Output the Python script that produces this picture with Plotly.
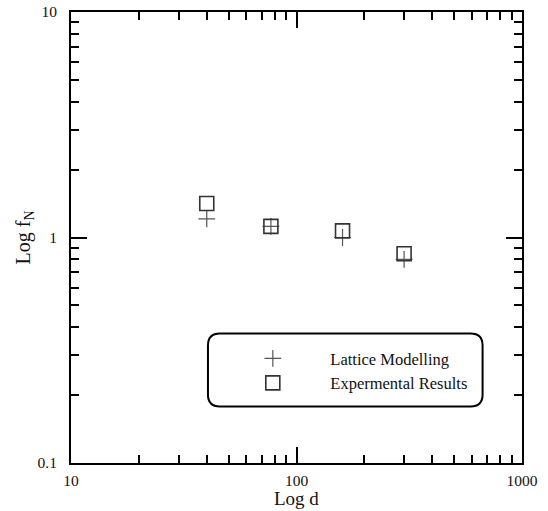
import plotly.graph_objects as go

d_values = [40, 77, 160, 300]
lattice_fN = [1.21, 1.12, 1.00, 0.80]
experimental_fN = [1.415, 1.12, 1.07, 0.847]

x_tickvals = [10, 100, 1000]
x_ticktext = ["10", "100", "1000"]
y_tickvals = [0.1, 1, 10]
y_ticktext = ["0.1", "1", "10"]
x_minor = [20, 30, 40, 50, 60, 70, 80, 90, 200, 300, 400, 500, 600, 700, 800, 900]
y_minor = [0.2, 0.3, 0.4, 0.5, 0.6, 0.7, 0.8, 0.9, 2, 3, 4, 5, 6, 7, 8, 9]

FONT = "Liberation Serif, Times New Roman, serif"

fig = go.Figure()
fig.add_trace(go.Scatter(
    x=d_values, y=lattice_fN, mode="markers", name="Lattice Modelling",
    marker=dict(symbol="cross-thin", size=12, line=dict(color="#555555", width=1.2)),
))
fig.add_trace(go.Scatter(
    x=d_values, y=experimental_fN, mode="markers", name="Expermental Results",
    marker=dict(symbol="square-open", size=14, color="#333333", line=dict(color="#333333", width=1.6)),
))

axis_common = dict(
    showline=True, linecolor="black", linewidth=2, mirror="allticks",
    ticks="inside", ticklen=16, tickwidth=2, tickcolor="black",
    showgrid=False, zeroline=False, automargin=False,
    tickfont=dict(family=FONT, size=15.5, color="#111111"),
)

fig.update_xaxes(
    type="log", range=[1, 3], tickvals=x_tickvals, ticktext=x_ticktext,
    minor=dict(ticks="inside", ticklen=8, tickwidth=2, tickcolor="black", tickvals=x_minor, showgrid=False),
    ticklabelstandoff=2,
    **axis_common,
)
fig.update_yaxes(
    type="log", range=[-1, 1], tickvals=y_tickvals, ticktext=y_ticktext,
    minor=dict(ticks="inside", ticklen=8, tickwidth=2, tickcolor="black", tickvals=y_minor, showgrid=False),
    title=dict(text="Log f<sub>N</sub>", font=dict(family=FONT, size=20, color="#111111"), standoff=2),
    ticklabelstandoff=9,
    **axis_common,
)

# x-axis title as annotation (below tick labels)
fig.add_annotation(text="Log d", xref="paper", yref="paper", x=0.5, y=-0.1053,
                   xanchor="center", yanchor="bottom", showarrow=False, borderpad=0,
                   font=dict(family=FONT, size=19, color="#111111"))

# rounded legend frame (paper coords)
x0, x1, y0, y1 = 0.3037, 0.9126, 0.1253, 0.2871
rx, ry = 12 / 451.7, 12 / 451.0
path = (f"M {x0+rx},{y0} L {x1-rx},{y0} Q {x1},{y0} {x1},{y0+ry} "
        f"L {x1},{y1-ry} Q {x1},{y1} {x1-rx},{y1} L {x0+rx},{y1} "
        f"Q {x0},{y1} {x0},{y1-ry} L {x0},{y0+ry} Q {x0},{y0} {x0+rx},{y0} Z")
fig.add_shape(type="path", path=path, xref="paper", yref="paper",
              line=dict(color="black", width=2), fillcolor="rgba(0,0,0,0)")

fig.update_layout(
    width=548, height=511,
    margin=dict(l=71, r=26, t=12, b=48),
    plot_bgcolor="white", paper_bgcolor="white",
    showlegend=True,
    legend=dict(
        x=0.32, y=0.27, xanchor="left", yanchor="top",
        bgcolor="rgba(0,0,0,0)", borderwidth=0,
        itemwidth=105, tracegroupgap=0,
        font=dict(family=FONT, size=16.5, color="#111111"),
    ),
)

fig.write_html("out.html")
